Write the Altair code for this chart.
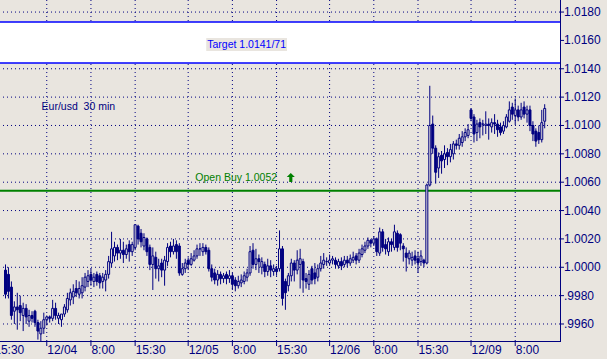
import altair as alt
import pandas as pd

BG = "#E9E5DF"
NAVY = "#000080"
BLUE = "#0000FF"
GREEN = "#008000"
FONT = "Liberation Sans"

# ---- 30-minute EUR/USD candles (one slot per bar) ----
open_ = [
    0.9998, 0.9995, 0.9986, 0.9969, 0.9972, 0.9973, 0.9966, 0.9971, 0.9962, 0.9966,
    0.9969, 0.9961, 0.9953, 0.9957, 0.9963, 0.9965, 0.9964, 0.9971, 0.9964, 0.9963,
    0.9967, 0.9970, 0.9977, 0.9979, 0.9985, 0.9981, 0.9982, 0.9986, 0.9990, 0.9995,
    0.9990, 0.9995, 0.9994, 0.9990, 0.9991, 0.9995, 1.0003, 1.0008, 1.0014, 1.0010,
    1.0012, 1.0009, 1.0016, 1.0011, 1.0014, 1.0029, 1.0024, 1.0015, 1.0020, 1.0014,
    1.0002, 1.0007, 0.9999, 1.0003, 0.9998, 1.0004, 1.0015, 1.0011, 1.0016, 1.0015,
    0.9995, 0.9999, 1.0005, 1.0002, 1.0005, 1.0008, 1.0013, 1.0011, 1.0014, 1.0012,
    0.9999, 0.9996, 0.9991, 0.9995, 0.9992, 0.9995, 0.9992, 0.9994, 0.9991, 0.9987,
    0.9989, 0.9990, 0.9993, 0.9996, 1.0012, 1.0002, 1.0006, 1.0000, 1.0002, 0.9997,
    1.0001, 0.9997, 0.9999, 0.9999, 1.0013, 0.9990, 0.9987, 0.9994, 1.0003, 0.9998,
    1.0002, 1.0004, 0.9992, 0.9988, 0.9999, 0.9996, 0.9993, 0.9999, 1.0002, 1.0004,
    1.0003, 1.0005, 1.0005, 1.0001, 1.0004, 1.0002, 1.0005, 1.0003, 1.0005, 1.0008,
    1.0005, 1.0009, 1.0012, 1.0015, 1.0019, 1.0017, 1.0020, 1.0010, 1.0025, 1.0016,
    1.0011, 1.0018, 1.0014, 1.0024, 1.0023, 1.0015, 1.0010, 1.0006, 1.0005, 1.0008,
    1.0006, 1.0004, 1.0005, 1.0003, 1.0058, 1.0101, 1.0084, 1.0070, 1.0079, 1.0076,
    1.0081, 1.0078, 1.0080, 1.0087, 1.0086, 1.0088, 1.0092, 1.0093, 1.0111, 1.0106,
    1.0095, 1.0102, 1.0101, 1.0100, 1.0101, 1.0099, 1.0102, 1.0101, 1.0099, 1.0096,
    1.0099, 1.0103, 1.0113, 1.0107, 1.0111, 1.0106, 1.0113, 1.0108, 1.0111, 1.0100,
    1.0096, 1.0095, 1.0090, 1.0103,
]
high = [
    1.0002, 1.0000, 0.9990, 0.9976, 0.9982, 0.9980, 0.9975, 0.9974, 0.9970, 0.9969,
    0.9970, 0.9963, 0.9962, 0.9968, 0.9966, 0.9966, 0.9977, 0.9975, 0.9968, 0.9967,
    0.9974, 0.9982, 0.9985, 0.9988, 0.9991, 0.9990, 0.9993, 0.9996, 0.9998, 0.9999,
    0.9996, 0.9997, 0.9996, 0.9996, 0.9998, 1.0008, 1.0025, 1.0018, 1.0016, 1.0020,
    1.0018, 1.0016, 1.0019, 1.0018, 1.0030, 1.0030, 1.0027, 1.0024, 1.0021, 1.0016,
    1.0014, 1.0011, 1.0006, 1.0006, 1.0008, 1.0017, 1.0018, 1.0020, 1.0019, 1.0017,
    1.0003, 1.0006, 1.0007, 1.0010, 1.0012, 1.0016, 1.0017, 1.0017, 1.0016, 1.0014,
    1.0002, 0.9999, 0.9998, 0.9997, 0.9996, 0.9997, 0.9998, 0.9996, 0.9993, 0.9994,
    0.9995, 0.9997, 0.9999, 1.0015, 1.0017, 1.0013, 1.0009, 1.0007, 1.0004, 1.0006,
    1.0005, 1.0002, 1.0001, 1.0026, 1.0015, 0.9992, 0.9996, 1.0006, 1.0005, 1.0012,
    1.0013, 1.0006, 0.9996, 0.9998, 1.0001, 1.0003, 1.0002, 1.0008, 1.0010, 1.0007,
    1.0009, 1.0008, 1.0007, 1.0006, 1.0007, 1.0008, 1.0008, 1.0009, 1.0011, 1.0010,
    1.0013, 1.0016, 1.0018, 1.0021, 1.0020, 1.0022, 1.0021, 1.0028, 1.0027, 1.0020,
    1.0021, 1.0020, 1.0030, 1.0026, 1.0024, 1.0017, 1.0014, 1.0012, 1.0011, 1.0012,
    1.0011, 1.0012, 1.0006, 1.0059, 1.0128, 1.0107, 1.0086, 1.0081, 1.0082, 1.0086,
    1.0084, 1.0087, 1.0089, 1.0090, 1.0094, 1.0096, 1.0098, 1.0101, 1.0112, 1.0108,
    1.0104, 1.0105, 1.0104, 1.0110, 1.0105, 1.0105, 1.0108, 1.0104, 1.0102, 1.0103,
    1.0108, 1.0117, 1.0116, 1.0119, 1.0114, 1.0116, 1.0117, 1.0114, 1.0114, 1.0103,
    1.0098, 1.0100, 1.0111, 1.0115,
]
low = [
    0.9978, 0.9978, 0.9963, 0.9960, 0.9956, 0.9962, 0.9955, 0.9960, 0.9958, 0.9961,
    0.9958, 0.9949, 0.9948, 0.9953, 0.9959, 0.9961, 0.9962, 0.9963, 0.9960, 0.9958,
    0.9965, 0.9968, 0.9973, 0.9974, 0.9979, 0.9978, 0.9978, 0.9983, 0.9986, 0.9987,
    0.9986, 0.9987, 0.9985, 0.9985, 0.9983, 0.9992, 1.0000, 1.0004, 1.0005, 1.0006,
    1.0003, 1.0006, 1.0004, 1.0008, 1.0012, 1.0016, 1.0014, 1.0012, 1.0008, 0.9998,
    0.9984, 0.9992, 0.9990, 0.9993, 0.9987, 1.0001, 1.0007, 1.0009, 1.0006, 0.9994,
    0.9994, 0.9996, 0.9998, 1.0001, 1.0004, 1.0006, 1.0008, 1.0008, 1.0009, 0.9997,
    0.9990, 0.9988, 0.9987, 0.9988, 0.9989, 0.9988, 0.9989, 0.9984, 0.9983, 0.9985,
    0.9986, 0.9988, 0.9990, 0.9994, 0.9999, 0.9998, 0.9996, 0.9995, 0.9993, 0.9994,
    0.9993, 0.9994, 0.9994, 0.9997, 0.9973, 0.9970, 0.9983, 0.9990, 0.9990, 0.9995,
    0.9985, 0.9982, 0.9985, 0.9984, 0.9988, 0.9988, 0.9990, 0.9997, 0.9999, 1.0001,
    1.0001, 1.0002, 0.9999, 0.9999, 0.9998, 1.0000, 1.0000, 1.0001, 1.0003, 1.0002,
    1.0003, 1.0007, 1.0010, 1.0013, 1.0014, 1.0015, 1.0008, 1.0008, 1.0011, 1.0009,
    1.0008, 1.0011, 1.0012, 1.0011, 1.0012, 1.0004, 0.9997, 1.0002, 1.0001, 1.0002,
    0.9996, 1.0001, 1.0000, 1.0002, 1.0057, 1.0080, 1.0059, 1.0063, 1.0066, 1.0070,
    1.0072, 1.0074, 1.0076, 1.0083, 1.0083, 1.0085, 1.0089, 1.0091, 1.0103, 1.0088,
    1.0089, 1.0091, 1.0093, 1.0094, 1.0090, 1.0095, 1.0094, 1.0092, 1.0093, 1.0094,
    1.0098, 1.0102, 1.0104, 1.0101, 1.0103, 1.0104, 1.0105, 1.0102, 1.0096, 1.0089,
    1.0085, 1.0087, 1.0088, 1.0098,
]
close = [
    0.9981, 0.9983, 0.9966, 0.9972, 0.9970, 0.9968, 0.9971, 0.9965, 0.9966, 0.9964,
    0.9961, 0.9955, 0.9957, 0.9963, 0.9965, 0.9964, 0.9971, 0.9966, 0.9966, 0.9967,
    0.9972, 0.9978, 0.9982, 0.9983, 0.9982, 0.9985, 0.9987, 0.9993, 0.9994, 0.9991,
    0.9993, 0.9990, 0.9989, 0.9993, 0.9995, 1.0004, 1.0013, 1.0014, 1.0010, 1.0012,
    1.0009, 1.0013, 1.0011, 1.0016, 1.0030, 1.0020, 1.0018, 1.0021, 1.0011, 1.0002,
    1.0008, 0.9999, 1.0001, 0.9998, 1.0005, 1.0014, 1.0011, 1.0015, 1.0011, 0.9996,
    0.9999, 1.0003, 1.0002, 1.0006, 1.0008, 1.0013, 1.0013, 1.0014, 1.0011, 0.9999,
    0.9993, 0.9991, 0.9995, 0.9992, 0.9994, 0.9992, 0.9994, 0.9988, 0.9987, 0.9990,
    0.9991, 0.9994, 0.9996, 1.0011, 1.0002, 1.0006, 1.0004, 1.0004, 0.9997, 1.0001,
    0.9998, 0.9999, 0.9997, 1.0013, 0.9978, 0.9982, 0.9994, 1.0003, 0.9998, 1.0005,
    1.0006, 0.9991, 0.9990, 0.9995, 0.9991, 0.9992, 0.9999, 1.0003, 1.0005, 1.0004,
    1.0005, 1.0006, 1.0002, 1.0004, 1.0001, 1.0005, 1.0003, 1.0006, 1.0007, 1.0005,
    1.0010, 1.0013, 1.0015, 1.0019, 1.0017, 1.0020, 1.0011, 1.0025, 1.0014, 1.0013,
    1.0018, 1.0016, 1.0025, 1.0014, 1.0017, 1.0013, 1.0007, 1.0010, 1.0007, 1.0005,
    1.0003, 1.0008, 1.0003, 1.0058, 1.0100, 1.0084, 1.0067, 1.0078, 1.0075, 1.0080,
    1.0078, 1.0083, 1.0087, 1.0086, 1.0091, 1.0092, 1.0095, 1.0097, 1.0105, 1.0094,
    1.0101, 1.0099, 1.0101, 1.0101, 1.0100, 1.0102, 1.0101, 1.0097, 1.0095, 1.0100,
    1.0106, 1.0111, 1.0108, 1.0111, 1.0106, 1.0111, 1.0108, 1.0111, 1.0100, 1.0094,
    1.0089, 1.0090, 1.0102, 1.0112,
]

# ---- axis ticks and labels ----
x_tick_values = [-4, 14, 29, 44, 62, 77, 92, 110, 125, 140, 158, 173]
x_tick_labels = ["15:30", "12/04", "\u00a08:00", "15:30", "12/05", "\u00a08:00",
                 "15:30", "12/06", "\u00a08:00", "15:30", "12/09", "\u00a08:00"]
y_tick_values = [0.996, 0.998, 1.000, 1.002, 1.004, 1.006, 1.008, 1.010,
                 1.012, 1.014, 1.016, 1.018]
y_tick_labels = [".9960", ".9980", "1.0000", "1.0020", "1.0040", "1.0060", "1.0080",
                 "1.0100", "1.0120", "1.0140", "1.0160", "1.0180"]
x_domain = [0, 560 / 3]
y_domain = [0.9948, 1.01885]

# ---- annotations ----
target_band = [1.0144, 1.0173]
target_text = ["Target 1.0141/71"]
open_buy_level = [1.0054]
open_buy_text = ["Open Buy 1.0052"]
pair_text = ["Eur/usd\u00a0 30 min"]

W, H = 560, 341

bars = pd.DataFrame({"slot": list(range(len(close))), "open": open_, "high": high,
                     "low": low, "close": close})
xticks = pd.DataFrame({"slot": x_tick_values, "label": x_tick_labels})
yticks = pd.DataFrame({"price": y_tick_values, "label": y_tick_labels})
one = pd.DataFrame({"k": [0]})

xs = alt.Scale(domain=x_domain, nice=False, zero=False)
ys = alt.Scale(domain=y_domain, nice=False, zero=False)

def X(field):
    return alt.X(field, scale=xs, axis=None)

def Y(field):
    return alt.Y(field, scale=ys, axis=None)

# grid
vgrid = alt.Chart(xticks).mark_rule(color=NAVY, strokeWidth=1, strokeDash=[1, 3],
                                     xOffset=0.5).encode(x=X("slot:Q"))
hgrid = alt.Chart(yticks).mark_rule(color=NAVY, strokeWidth=1, strokeDash=[1, 3]).encode(
    y=Y("price:Q"))

# white target band and its blue borders
band_df = pd.DataFrame({"lo": [target_band[0]], "hi": [target_band[1]]})
band = alt.Chart(band_df).mark_rect(fill="white").encode(
    x=alt.value(0), x2=alt.value(W), y=Y("lo:Q"), y2="hi:Q")
band_lines = alt.Chart(pd.DataFrame({"price": target_band})).mark_rule(
    color=BLUE, strokeWidth=1.5).encode(y=Y("price:Q"))

buy_line = alt.Chart(pd.DataFrame({"price": open_buy_level})).mark_rule(
    color=GREEN, strokeWidth=2).encode(y=Y("price:Q"))

# candles
wicks = alt.Chart(bars).mark_rule(color=NAVY, strokeWidth=1, xOffset=0.5).encode(
    x=X("slot:Q"), y=Y("low:Q"), y2="high:Q")
bodies = alt.Chart(bars).mark_bar(size=2, stroke=NAVY, strokeWidth=1, xOffset=0.5).encode(
    x=X("slot:Q"), y=Y("open:Q"), y2="close:Q",
    fill=alt.condition("datum.close < datum.open", alt.value(NAVY), alt.value(BG)),
)

# axes drawn as marks
right_domain = alt.Chart(one).mark_rule(color=NAVY, strokeWidth=1).encode(
    x=alt.value(W + 0.5), y=alt.value(0), y2=alt.value(H))
bottom_domain = alt.Chart(one).mark_rule(color=NAVY, strokeWidth=1).encode(
    x=alt.value(0), x2=alt.value(W + 1), y=alt.value(H + 0.5))
xtick_marks = alt.Chart(xticks).mark_rule(color=NAVY, strokeWidth=1, xOffset=0.5).encode(
    x=X("slot:Q"), y=alt.value(H), y2=alt.value(H + 5))
ytick_marks = alt.Chart(yticks).mark_rule(color=NAVY, strokeWidth=1).encode(
    y=Y("price:Q"), x=alt.value(W), x2=alt.value(W + 4))
xtick_labels = alt.Chart(xticks).mark_text(
    align="left", baseline="top", dx=1, font=FONT, fontSize=12, color=NAVY
).encode(x=X("slot:Q"), y=alt.value(H + 4), text="label:N")
ytick_labels = alt.Chart(yticks).mark_text(
    align="left", baseline="middle", font=FONT, fontSize=12, color=NAVY
).encode(y=Y("price:Q"), x=alt.value(W + 4), text="label:N")

box_df = pd.DataFrame({"x1": [68.3], "x2": [95.7], "y1": [1.01525], "y2": [1.01617]})
target_box = alt.Chart(box_df).mark_rect(fill=BG).encode(
    x=X("x1:Q"), x2="x2:Q", y=Y("y1:Q"), y2="y2:Q")

def label_layer(texts, slot, price, color, align):
    df = pd.DataFrame({"slot": [slot], "price": [price], "label": texts})
    return alt.Chart(df).mark_text(
        align=align, baseline="middle", font=FONT, fontSize=10.5, color=color
    ).encode(x=X("slot:Q"), y=Y("price:Q"), text="label:N")

target_label = label_layer(target_text, 82, 1.01571, BLUE, "center")
pair_label = label_layer(pair_text, 12.4, 1.01128, NAVY, "left")
buy_label = label_layer(open_buy_text, 64.6, 1.00629, GREEN, "left")

ARROW = "M0,-1L0.9,-0.1L0.35,-0.1L0.35,1L-0.35,1L-0.35,-0.1L-0.9,-0.1Z"
arrow = alt.Chart(pd.DataFrame({"slot": [97], "price": [1.00633]})).mark_point(
    shape=ARROW, filled=True, size=80, color=GREEN, opacity=1
).encode(x=X("slot:Q"), y=Y("price:Q"))

chart = alt.layer(
    vgrid, hgrid, band, band_lines, buy_line, wicks, bodies,
    right_domain, bottom_domain, xtick_marks, ytick_marks, xtick_labels, ytick_labels,
    target_box, target_label, pair_label, buy_label, arrow,
).properties(
    width=W, height=H,
    padding={"left": 0, "top": 0, "right": 47, "bottom": 18},
    autosize=alt.AutoSizeParams(type="none"),
    background=BG,
).configure_view(stroke="transparent", fill=BG)

chart.save("out.html", embed_options={"renderer": "svg", "actions": False})
